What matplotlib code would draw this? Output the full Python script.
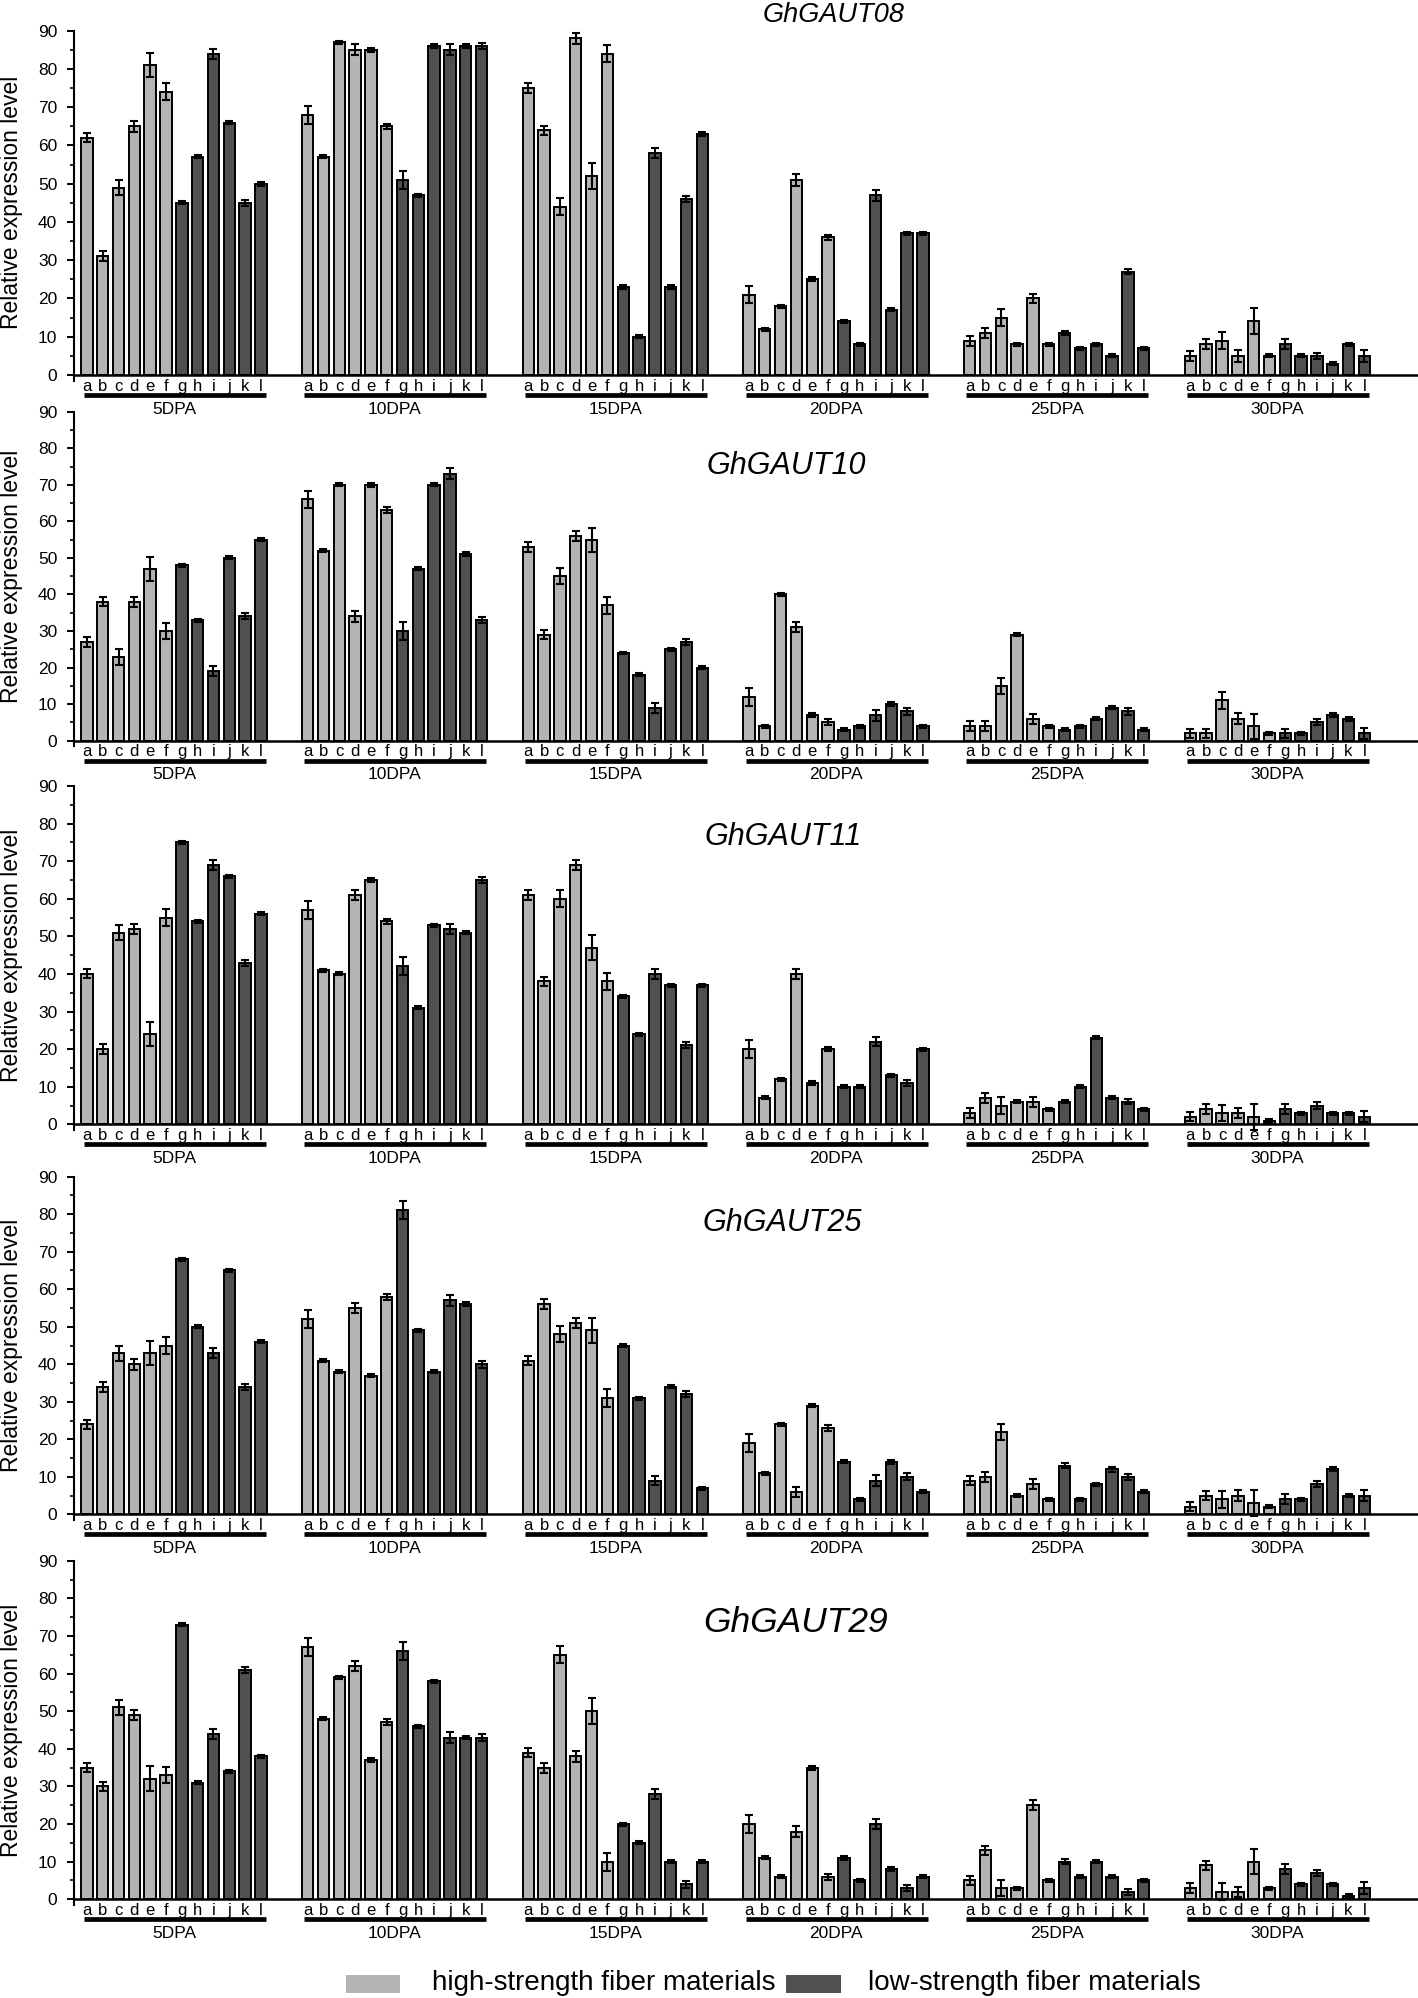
import matplotlib
matplotlib.use("Agg")
import matplotlib.pyplot as plt
import matplotlib.transforms as mtransforms
from matplotlib.patches import Rectangle

plt.rcParams['font.family'] = ['Liberation Sans', 'DejaVu Sans']

# ---- data ----
stages = ['5DPA', '10DPA', '15DPA', '20DPA', '25DPA', '30DPA']
letters = ['a', 'b', 'c', 'd', 'e', 'f', 'g', 'h', 'i', 'j', 'k', 'l']
genes = ['GhGAUT08', 'GhGAUT10', 'GhGAUT11', 'GhGAUT25', 'GhGAUT29']
n_high = 6  # a-f high-strength, g-l low-strength

gaut08 = [[62, 31, 49, 65, 81, 74, 45, 57, 84, 66, 45, 50],
          [68, 57, 87, 85, 85, 65, 51, 47, 86, 85, 86, 86],
          [75, 64, 44, 88, 52, 84, 23, 10, 58, 23, 46, 63],
          [21, 12, 18, 51, 25, 36, 14, 8, 47, 17, 37, 37],
          [9, 11, 15, 8, 20, 8, 11, 7, 8, 5, 27, 7],
          [5, 8, 9, 5, 14, 5, 8, 5, 5, 3, 8, 5]]
gaut08_err = [[1.2, 1.3, 2.0, 1.5, 3.2, 2.2, 0.4, 0.4, 1.3, 0.5, 0.8, 0.5],
              [2.4, 0.4, 0.4, 1.4, 0.5, 0.6, 2.4, 0.4, 0.4, 1.4, 0.5, 0.9],
              [1.2, 1.2, 2.2, 1.4, 3.4, 2.2, 0.4, 0.4, 1.3, 0.4, 0.9, 0.4],
              [2.3, 0.4, 0.4, 1.5, 0.5, 0.6, 0.4, 0.4, 1.4, 0.4, 0.5, 0.5],
              [1.3, 1.3, 2.2, 0.4, 1.3, 0.4, 0.6, 0.4, 0.4, 0.4, 0.6, 0.4],
              [1.3, 1.3, 2.2, 1.5, 3.4, 0.4, 1.3, 0.4, 0.8, 0.4, 0.4, 1.5]]

gaut10 = [[27, 38, 23, 38, 47, 30, 48, 33, 19, 50, 34, 55],
          [66, 52, 70, 34, 70, 63, 30, 47, 70, 73, 51, 33],
          [53, 29, 45, 56, 55, 37, 24, 18, 9, 25, 27, 20],
          [12, 4, 40, 31, 7, 5, 3, 4, 7, 10, 8, 4],
          [4, 4, 15, 29, 6, 4, 3, 4, 6, 9, 8, 3],
          [2, 2, 11, 6, 4, 2, 2, 2, 5, 7, 6, 2]]
gaut10_err = [[1.3, 1.2, 2.2, 1.4, 3.3, 2.3, 0.4, 0.4, 1.3, 0.4, 0.8, 0.4],
              [2.4, 0.4, 0.4, 1.4, 0.5, 0.8, 2.4, 0.4, 0.4, 1.5, 0.5, 0.9],
              [1.3, 1.3, 2.2, 1.4, 3.3, 2.3, 0.4, 0.4, 1.3, 0.4, 0.9, 0.4],
              [2.4, 0.4, 0.4, 1.4, 0.5, 0.8, 0.4, 0.4, 1.5, 0.5, 0.9, 0.4],
              [1.3, 1.3, 2.2, 0.4, 1.3, 0.4, 0.4, 0.4, 0.4, 0.4, 0.9, 0.4],
              [1.2, 1.2, 2.2, 1.5, 3.4, 0.4, 1.2, 0.4, 0.8, 0.5, 0.5, 1.5]]

gaut11 = [[40, 20, 51, 52, 24, 55, 75, 54, 69, 66, 43, 56],
          [57, 41, 40, 61, 65, 54, 42, 31, 53, 52, 51, 65],
          [61, 38, 60, 69, 47, 38, 34, 24, 40, 37, 21, 37],
          [20, 7, 12, 40, 11, 20, 10, 10, 22, 13, 11, 20],
          [3, 7, 5, 6, 6, 4, 6, 10, 23, 7, 6, 4],
          [2, 4, 3, 3, 2, 1, 4, 3, 5, 3, 3, 2]]
gaut11_err = [[1.2, 1.3, 2.0, 1.4, 3.3, 2.2, 0.4, 0.4, 1.3, 0.4, 0.8, 0.4],
              [2.4, 0.4, 0.4, 1.4, 0.6, 0.6, 2.4, 0.4, 0.4, 1.4, 0.5, 0.7],
              [1.3, 1.3, 2.2, 1.4, 3.3, 2.3, 0.4, 0.4, 1.3, 0.4, 0.8, 0.4],
              [2.4, 0.4, 0.4, 1.4, 0.6, 0.6, 0.4, 0.4, 1.3, 0.5, 0.8, 0.4],
              [1.3, 1.3, 2.2, 0.4, 1.3, 0.4, 0.4, 0.4, 0.4, 0.4, 0.7, 0.4],
              [1.2, 1.3, 2.2, 1.4, 3.4, 0.3, 1.3, 0.4, 0.8, 0.4, 0.4, 1.5]]

gaut25 = [[24, 34, 43, 40, 43, 45, 68, 50, 43, 65, 34, 46],
          [52, 41, 38, 55, 37, 58, 81, 49, 38, 57, 56, 40],
          [41, 56, 48, 51, 49, 31, 45, 31, 9, 34, 32, 7],
          [19, 11, 24, 6, 29, 23, 14, 4, 9, 14, 10, 6],
          [9, 10, 22, 5, 8, 4, 13, 4, 8, 12, 10, 6],
          [2, 5, 4, 5, 3, 2, 4, 4, 8, 12, 5, 5]]
gaut25_err = [[1.2, 1.3, 2.0, 1.4, 3.3, 2.2, 0.4, 0.4, 1.3, 0.4, 0.8, 0.4],
              [2.4, 0.4, 0.4, 1.4, 0.5, 0.8, 2.4, 0.4, 0.4, 1.4, 0.5, 0.9],
              [1.3, 1.3, 2.2, 1.4, 3.4, 2.4, 0.4, 0.4, 1.3, 0.4, 0.8, 0.4],
              [2.4, 0.4, 0.4, 1.4, 0.5, 0.7, 0.4, 0.4, 1.4, 0.5, 0.9, 0.4],
              [1.3, 1.3, 2.2, 0.4, 1.3, 0.4, 0.6, 0.4, 0.4, 0.6, 0.8, 0.4],
              [1.2, 1.3, 2.2, 1.4, 3.4, 0.4, 1.3, 0.4, 0.8, 0.5, 0.4, 1.5]]

gaut29 = [[35, 30, 51, 49, 32, 33, 73, 31, 44, 34, 61, 38],
          [67, 48, 59, 62, 37, 47, 66, 46, 58, 43, 43, 43],
          [39, 35, 65, 38, 50, 10, 20, 15, 28, 10, 4, 10],
          [20, 11, 6, 18, 35, 6, 11, 5, 20, 8, 3, 6],
          [5, 13, 3, 3, 25, 5, 10, 6, 10, 6, 2, 5],
          [3, 9, 2, 2, 10, 3, 8, 4, 7, 4, 1, 3]]
gaut29_err = [[1.2, 1.3, 2.0, 1.4, 3.3, 2.2, 0.4, 0.4, 1.3, 0.4, 0.8, 0.4],
              [2.4, 0.4, 0.4, 1.4, 0.5, 0.8, 2.4, 0.4, 0.4, 1.4, 0.5, 0.9],
              [1.3, 1.3, 2.2, 1.4, 3.4, 2.4, 0.4, 0.4, 1.3, 0.4, 0.9, 0.4],
              [2.4, 0.4, 0.4, 1.4, 0.5, 0.8, 0.5, 0.4, 1.3, 0.5, 0.9, 0.4],
              [1.3, 1.3, 2.2, 0.4, 1.3, 0.4, 0.6, 0.4, 0.4, 0.4, 0.8, 0.4],
              [1.2, 1.3, 2.2, 1.4, 3.4, 0.4, 1.3, 0.4, 0.8, 0.4, 0.3, 1.5]]

legend_labels = ['high-strength fiber materials', 'low-strength fiber materials']

# ---- layout ----
W, H = 1418, 1998
light, dark = '#b4b4b4', '#505050'
group_step = 13.95


def fx(px):
    return px / W


def fy(py):
    return 1 - py / H


fig = plt.figure(figsize=(W / 100, H / 100), dpi=100)

# (values, errors, pixel y of 90, pixel y of 0, title x, title y, title size)
panels = [(gaut08, gaut08_err, 30.7, 375.0, 834, 15, 19.5),
          (gaut10, gaut10_err, 411.7, 740.7, 786, 466, 22),
          (gaut11, gaut11_err, 786.0, 1124.3, 783, 837, 22),
          (gaut25, gaut25_err, 1176.7, 1514.3, 782, 1223, 22),
          (gaut29, gaut29_err, 1560.7, 1899.3, 796, 1622, 25.5)]

ymin = -1.5
for gene, (vals, errs, y90, y0, tx, ty, tsize) in zip(genes, panels):
    unit = (y0 - y90) / 90
    bot = y0 - ymin * unit
    ax = fig.add_axes([fx(74), fy(bot), 1 - fx(74), (bot - y90) / H])
    ax.set_xlim(-0.815, 84.14)
    ax.set_ylim(ymin, 90)

    under = mtransforms.offset_copy(ax.transData, fig=fig, x=0, y=-20, units='dots')
    for g, stage in enumerate(stages):
        x = [g * group_step + j for j in range(len(letters))]
        cols = [light if j < n_high else dark for j in range(len(letters))]
        ax.bar(x, vals[g], width=0.72, color=cols, edgecolor='black',
               linewidth=1.4, zorder=2)
        ax.errorbar(x, vals[g], yerr=errs[g], fmt='none', ecolor='black',
                    elinewidth=1.5, capsize=3.2, capthick=1.5, zorder=3)
        for xi, lt in zip(x, letters):
            ax.annotate(lt, xy=(xi, 0), xytext=(0, -11), textcoords='offset pixels',
                        ha='center', va='center', fontsize=12, annotation_clip=False)
        ax.plot([x[0] - 0.2, x[-1] + 0.3], [0, 0], transform=under, color='black',
                lw=3.4, solid_capstyle='butt', clip_on=False)
        ax.annotate(stage, xy=((x[0] + x[-1]) / 2, 0), xytext=(0, -34),
                    textcoords='offset pixels', ha='center', va='center',
                    fontsize=12.5, annotation_clip=False)

    ax.axhline(0, color='black', lw=1.8, zorder=4)
    for s in ['top', 'right', 'bottom']:
        ax.spines[s].set_visible(False)
    ax.spines['left'].set_linewidth(1.5)
    ax.set_xticks([])
    ax.set_yticks(range(0, 91, 10))
    ax.set_yticks(range(5, 90, 10), minor=True)
    ax.tick_params(axis='y', which='major', direction='out', length=5, width=1.4,
                   labelsize=12.5, pad=7)
    ax.tick_params(axis='y', which='minor', direction='out', length=3, width=1.2)
    ax.patch.set_alpha(0)

    fig.text(fx(tx), fy(ty), gene, fontsize=tsize, style='italic',
             ha='center', va='center')
    fig.text(fx(12), fy((y90 + y0) / 2), 'Relative expression level', rotation=90,
             ha='center', va='center', fontsize=16.5)

# legend
fig.add_artist(Rectangle((fx(346), fy(1993)), fx(54), 18 / H,
                         transform=fig.transFigure, color=light, lw=0))
fig.text(fx(432), fy(1983), legend_labels[0], fontsize=20, ha='left', va='center')
fig.add_artist(Rectangle((fx(786), fy(1993)), fx(55), 18 / H,
                         transform=fig.transFigure, color=dark, lw=0))
fig.text(fx(868), fy(1983), legend_labels[1], fontsize=20, ha='left', va='center')

fig.savefig('out.png', dpi=100)
